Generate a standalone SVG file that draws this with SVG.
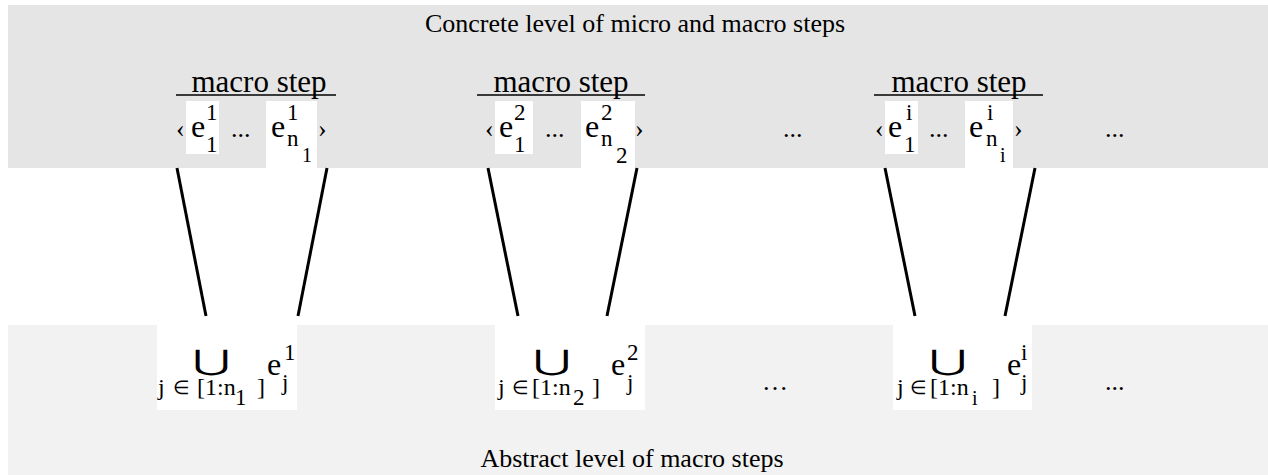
<svg xmlns="http://www.w3.org/2000/svg" width="1268" height="475" viewBox="0 0 1268 475">
<style>
text{font-family:"Liberation Serif","Times New Roman",serif;fill:#000}
.lbl{font-size:26px}
.ms{font-size:31px}
.e{font-size:32px}
.sup{font-size:23px}
.sub2{font-size:20px}
.q{font-size:26px}
.br{font-size:24px}
.in{font-size:19px}
.cup{font-family:"DejaVu Sans","DejaVu Serif",sans-serif;font-size:28px}
.wb{fill:#fff}
.conn line{stroke:#000;stroke-width:3}
</style>
<rect x="8" y="5" width="1260" height="163" fill="#e5e5e5"/>
<rect x="8" y="325" width="1260" height="150" fill="#f2f2f2"/>
<text class="lbl" x="635" y="32" text-anchor="middle">Concrete level of micro and macro steps</text>
<text class="lbl" x="632" y="467" text-anchor="middle">Abstract level of macro steps</text>

<g id="macro1">
<line x1="176" y1="95" x2="336" y2="95" stroke="#000" stroke-width="1.5"/>
<text class="ms" x="259" y="92" text-anchor="middle">macro step</text>
<rect class="wb" x="186" y="101" width="33" height="53"/>
<rect class="wb" x="266" y="101" width="51" height="67"/>
<text class="q" x="176" y="137">‹</text>
<text class="e" x="191" y="137">e</text>
<text class="sup" x="206" y="120">1</text>
<text class="sup" x="206" y="152">1</text>
<text class="lbl" x="231" y="137">...</text>
<text class="e" x="271" y="137">e</text>
<text class="sup" x="287" y="120">1</text>
<text class="sup" x="287" y="146">n</text>
<text class="sub2" x="302" y="162">1</text>
<text class="q" x="318" y="137">›</text>
</g>

<g id="macro2">
<line x1="477" y1="95" x2="645" y2="95" stroke="#000" stroke-width="1.5"/>
<text class="ms" x="561" y="92" text-anchor="middle">macro step</text>
<rect class="wb" x="495" y="101" width="38" height="53"/>
<rect class="wb" x="581" y="101" width="54" height="67"/>
<text class="q" x="485" y="137">‹</text>
<text class="e" x="499" y="137">e</text>
<text class="sup" x="514" y="120">2</text>
<text class="sup" x="514" y="152">1</text>
<text class="lbl" x="545" y="137">...</text>
<text class="e" x="585" y="137">e</text>
<text class="sup" x="601" y="120">2</text>
<text class="sup" x="601" y="146">n</text>
<text class="sup" x="616" y="163">2</text>
<text class="q" x="635" y="137">›</text>
</g>

<g id="macro3">
<line x1="874" y1="95" x2="1043" y2="95" stroke="#000" stroke-width="1.5"/>
<text class="ms" x="959" y="92" text-anchor="middle">macro step</text>
<rect class="wb" x="885" y="101" width="33" height="53"/>
<rect class="wb" x="965" y="101" width="48" height="67"/>
<text class="q" x="875" y="137">‹</text>
<text class="e" x="888" y="137">e</text>
<text class="sup" x="906" y="120">i</text>
<text class="sup" x="904" y="152">1</text>
<text class="lbl" x="929" y="137">...</text>
<text class="e" x="969" y="137">e</text>
<text class="sup" x="987" y="120">i</text>
<text class="sup" x="986" y="146">n</text>
<text class="sub2" x="1000" y="162">i</text>
<text class="q" x="1014" y="137">›</text>
</g>

<g id="dots-top">
<text class="lbl" x="783" y="137">...</text>
<text class="lbl" x="1105" y="137">...</text>
</g>

<g id="union1">
<rect class="wb" x="157" y="325" width="140" height="85"/>
<text class="cup" transform="translate(211.5,370) scale(1.65,1)" text-anchor="middle">⋃</text>
<text class="br" x="158" y="395">j</text>
<text class="in" x="173" y="394">∈</text>
<text class="br" x="197" y="395">[1:n</text>
<text class="sup" x="235" y="405">1</text>
<text class="br" x="257" y="395">]</text>
<text class="e" x="267" y="375">e</text>
<text class="sup" x="284" y="360">1</text>
<text class="sup" x="282" y="390">j</text>
</g>

<g id="union2">
<rect class="wb" x="495" y="325" width="150" height="85"/>
<text class="cup" transform="translate(552,370) scale(1.65,1)" text-anchor="middle">⋃</text>
<text class="br" x="498" y="395">j</text>
<text class="in" x="512" y="394">∈</text>
<text class="br" x="532" y="395">[1:n</text>
<text class="sup" x="573" y="405">2</text>
<text class="br" x="592" y="395">]</text>
<text class="e" x="611" y="375">e</text>
<text class="sup" x="627" y="360">2</text>
<text class="sup" x="627" y="390">j</text>
</g>

<g id="union3">
<rect class="wb" x="893" y="325" width="139" height="85"/>
<text class="cup" transform="translate(948,370) scale(1.65,1)" text-anchor="middle">⋃</text>
<text class="br" x="897" y="395">j</text>
<text class="in" x="910" y="394">∈</text>
<text class="br" x="930" y="395">[1:n</text>
<text class="sub2" x="972" y="405">i</text>
<text class="br" x="992" y="395">]</text>
<text class="e" x="1007" y="375">e</text>
<text class="sup" x="1021" y="360">i</text>
<text class="sup" x="1021" y="390">j</text>
</g>

<g id="dots-bottom">
<text class="lbl" x="775" y="390" text-anchor="middle">…</text>
<text class="lbl" x="1105" y="390">...</text>
</g>

<g class="conn" id="connectors">
<line x1="177" y1="168" x2="206" y2="316"/>
<line x1="327" y1="168" x2="298" y2="316"/>
<line x1="488" y1="168" x2="518" y2="316"/>
<line x1="637" y1="168" x2="607" y2="316"/>
<line x1="885" y1="168" x2="915" y2="316"/>
<line x1="1035" y1="168" x2="1005" y2="316"/>
</g>
</svg>
